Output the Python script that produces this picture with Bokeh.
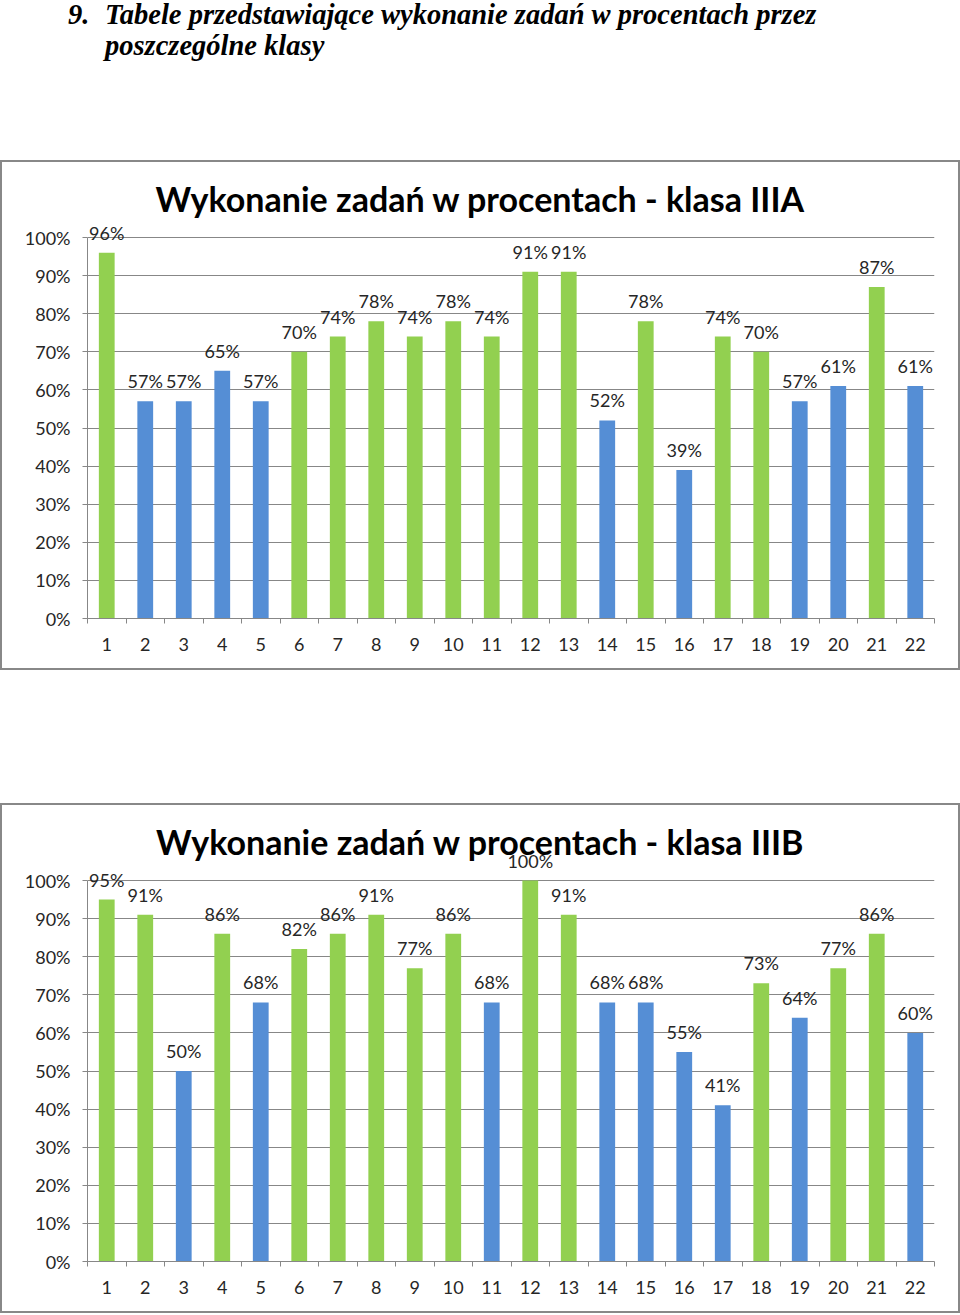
from bokeh.plotting import figure
from bokeh.models import FixedTicker, Range1d, Div, ColumnDataSource, Spacer
from bokeh.layouts import column
from bokeh.embed import file_html
from bokeh.resources import INLINE
from bokeh.core.properties import value

# ---------------- data ----------------
categories = [str(i) for i in range(1, 23)]
values_IIIA = [96, 57, 57, 65, 57, 70, 74, 78, 74, 78, 74, 91, 91, 52, 78, 39, 74, 70, 57, 61, 87, 61]
values_IIIB = [95, 91, 50, 86, 68, 82, 86, 91, 77, 86, 68, 100, 91, 68, 68, 55, 41, 73, 64, 77, 86, 60]
y_ticks = [0, 10, 20, 30, 40, 50, 60, 70, 80, 90, 100]
y_tick_labels = [f"{t}%" for t in y_ticks]
title_IIIA = "Wykonanie zadań w procentach - klasa IIIA"
title_IIIB = "Wykonanie zadań w procentach - klasa IIIB"
heading_num = "9."
heading_line1 = "Tabele przedstawiające wykonanie zadań w procentach przez"
heading_line2 = "poszczególne klasy"
good_threshold = 70

# ---------------- styles ----------------
GREEN = "#92D050"
BLUE = "#558ED5"
GRID = "#878787"
TXT = "#262626"
FONT = "Lato"


def make_chart(title, vals):
    W, H = 960, 510
    left, right, bottom = 85, 28, 54
    frame_bottom_px = 456
    px_per_pct = 3.81
    ytop = frame_bottom_px / px_per_pct
    n = len(categories)
    xs = list(range(1, n + 1))
    colors = [GREEN if v >= good_threshold else BLUE for v in vals]
    labels = [f"{v}%" for v in vals]
    src = ColumnDataSource(dict(x=xs, v=vals, color=colors, label=labels))

    p = figure(width=W, height=H, x_range=Range1d(0.5, n + 0.5), y_range=Range1d(0, ytop),
               output_backend="svg", toolbar_location=None, title=None,
               min_border_left=left, min_border_right=right,
               min_border_bottom=bottom, min_border_top=0, margin=0)
    p.outline_line_color = None
    p.background_fill_color = "white"
    p.border_fill_color = "white"
    p.styles = {"border": "2px solid #888888"}

    p.xgrid.visible = False
    p.ygrid.ticker = FixedTicker(ticks=y_ticks)
    p.ygrid.grid_line_color = GRID
    p.ygrid.grid_line_width = 1

    p.vbar(x="x", top="v", width=0.41, color="color", line_color=None, source=src)
    p.text(x="x", y="v", text="label", source=src, text_align="center",
           text_baseline="alphabetic", y_offset=-20, text_font=value(FONT),
           text_font_size="18px", text_color=TXT)
    p.text(x=[(0.5 + n + 0.5) / 2], y=[100], text=[title], x_offset=-30.5, y_offset=-39,
           text_align="center", text_baseline="alphabetic", text_font=value(FONT),
           text_font_style="bold", text_font_size="34px", text_color="black")

    ya = p.yaxis[0]
    ya.ticker = FixedTicker(ticks=y_ticks)
    ya.major_label_overrides = {t: l for t, l in zip(y_ticks, y_tick_labels)}
    ya.bounds = (0, 100)
    ya.axis_line_color = GRID
    ya.major_tick_line_color = GRID
    ya.major_tick_out = 5
    ya.major_tick_in = 0
    ya.minor_tick_line_color = None
    ya.major_label_standoff = 12
    ya.major_label_text_font = FONT
    ya.major_label_text_font_size = "18px"
    ya.major_label_text_color = TXT

    xa = p.xaxis[0]
    xa.ticker = FixedTicker(ticks=xs, minor_ticks=[i + 0.5 for i in range(0, n + 1)])
    xa.major_label_overrides = {x: c for x, c in zip(xs, categories)}
    xa.axis_line_color = GRID
    xa.major_tick_out = 0
    xa.major_tick_in = 0
    xa.major_tick_line_color = None
    xa.minor_tick_line_color = GRID
    xa.minor_tick_out = 5
    xa.minor_tick_in = 0
    xa.major_label_standoff = 14
    xa.major_label_text_font = FONT
    xa.major_label_text_font_size = "18px"
    xa.major_label_text_color = TXT
    return p


heading_html = (
    '<div style="position:relative; top:-1px; font-family:\'Liberation Serif\'; '
    'font-weight:bold; font-style:italic; font-size:28.5px; line-height:31px; color:black; white-space:nowrap;">'
    f'<div style="display:flex;"><span style="margin-left:68px; width:37px; flex:none; display:inline-block;">{heading_num}</span>'
    f'<span>{heading_line1}<br>{heading_line2}</span></div></div>'
)
head = Div(text=heading_html, width=960, height=160, margin=0)

p1 = make_chart(title_IIIA, values_IIIA)
p2 = make_chart(title_IIIB, values_IIIB)

layout = column(head, p1, Spacer(width=960, height=133, margin=0), p2)

open("out.html", "w").write(file_html(layout, INLINE))
